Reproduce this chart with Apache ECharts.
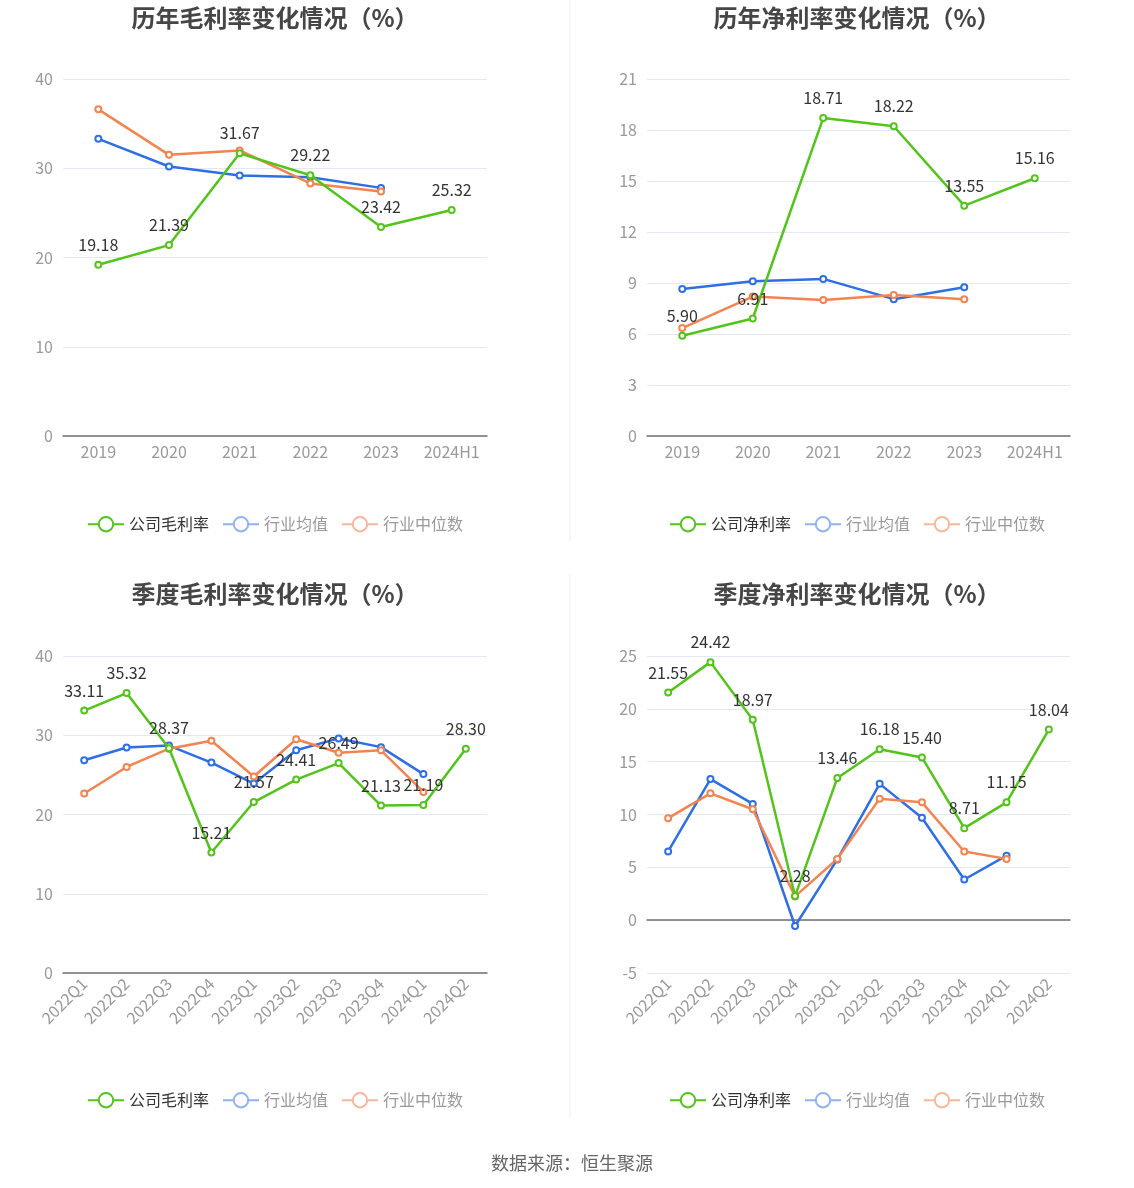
<!DOCTYPE html>
<html>
<head>
<meta charset="utf-8">
<script src="https://cdn.jsdelivr.net/npm/echarts@6/dist/echarts.min.js"></script>
<style>
  html, body { margin: 0; padding: 0; background: #fff; }
  #main { width: 1134px; height: 1188px; }
</style>
</head>
<body>
<div id="main"></div>
<script>
// 横轴分类
var yearCats = ['2019', '2020', '2021', '2022', '2023', '2024H1'];
var quarterCats = ['2022Q1', '2022Q2', '2022Q3', '2022Q4', '2023Q1', '2023Q2', '2023Q3', '2023Q4', '2024Q1', '2024Q2'];

// 历年毛利率
var grossYearCompany = [19.18, 21.39, 31.67, 29.22, 23.42, 25.32];
var grossYearAvg = [33.3, 30.2, 29.2, 29.0, 27.8];
var grossYearMedian = [36.6, 31.5, 32.0, 28.3, 27.4];

// 历年净利率
var netYearCompany = [5.90, 6.91, 18.71, 18.22, 13.55, 15.16];
var netYearAvg = [8.65, 9.1, 9.24, 8.05, 8.75];
var netYearMedian = [6.35, 8.2, 8.0, 8.3, 8.05];

// 季度毛利率
var grossQtrCompany = [33.11, 35.32, 28.37, 15.21, 21.57, 24.41, 26.49, 21.13, 21.19, 28.30];
var grossQtrAvg = [26.85, 28.45, 28.7, 26.55, 23.9, 28.1, 29.6, 28.5, 25.1];
var grossQtrMedian = [22.65, 26.0, 28.3, 29.3, 24.8, 29.5, 27.8, 28.1, 22.85];

// 季度净利率
var netQtrCompany = [21.55, 24.42, 18.97, 2.28, 13.46, 16.18, 15.40, 8.71, 11.15, 18.04];
var netQtrAvg = [6.5, 13.35, 11.0, -0.55, 5.75, 12.9, 9.7, 3.85, 6.1];
var netQtrMedian = [9.65, 12.0, 10.5, 2.25, 5.8, 11.5, 11.15, 6.5, 5.8];

// 坐标轴刻度
var grossTicks = { min: 0, max: 40, interval: 10 };
var netYearTicks = { min: 0, max: 21, interval: 3 };
var netQtrTicks = { min: -5, max: 25, interval: 5 };

var FONT = '"Noto Sans CJK SC", "Noto Sans", sans-serif';
var GREEN = '#52c41a', BLUE = '#2e6fe6', ORANGE = '#f5834f';

// 四个面板的位置
var panels = [
    { title: '历年毛利率变化情况（%）', name: '公司毛利率', cats: yearCats, ticks: grossTicks,
      company: grossYearCompany, avg: grossYearAvg, median: grossYearMedian,
      grid: { left: 63, top: 79, width: 424, height: 357 }, titleY: 1, legendY: 511, cx: 270, legendX: 82, rotate: 0 },
    { title: '历年净利率变化情况（%）', name: '公司净利率', cats: yearCats, ticks: netYearTicks,
      company: netYearCompany, avg: netYearAvg, median: netYearMedian,
      grid: { left: 647, top: 79, width: 423, height: 357 }, titleY: 1, legendY: 511, cx: 852, legendX: 664, rotate: 0 },
    { title: '季度毛利率变化情况（%）', name: '公司毛利率', cats: quarterCats, ticks: grossTicks,
      company: grossQtrCompany, avg: grossQtrAvg, median: grossQtrMedian,
      grid: { left: 63, top: 656, width: 424, height: 317 }, titleY: 577, legendY: 1087, cx: 270, legendX: 82, rotate: 45 },
    { title: '季度净利率变化情况（%）', name: '公司净利率', cats: quarterCats, ticks: netQtrTicks,
      company: netQtrCompany, avg: netQtrAvg, median: netQtrMedian,
      grid: { left: 647, top: 656, width: 423, height: 317 }, titleY: 577, legendY: 1087, cx: 852, legendX: 664, rotate: 45 }
];

var titles = [], grids = [], xAxes = [], yAxes = [], legends = [], series = [];

panels.forEach(function (p, i) {
    titles.push({
        text: p.title, left: p.cx, top: p.titleY, textAlign: 'center',
        textStyle: { fontFamily: FONT, fontSize: 24, fontWeight: 'bold', color: '#464646' }
    });
    grids.push(p.grid);
    xAxes.push({
        type: 'category', gridIndex: i, data: p.cats, boundaryGap: true,
        axisLine: { lineStyle: { color: '#6e7079', width: 1.5 } },
        axisTick: { alignWithLabel: true, lineStyle: { color: '#6e7079' } },
        axisLabel: { fontFamily: FONT, fontSize: 16, color: '#999', rotate: p.rotate, margin: 8, interval: 0 }
    });
    yAxes.push({
        type: 'value', gridIndex: i, min: p.ticks.min, max: p.ticks.max, interval: p.ticks.interval,
        axisLine: { show: false }, axisTick: { show: false },
        axisLabel: { fontFamily: FONT, fontSize: 16, color: '#999', margin: 10 },
        splitLine: { lineStyle: { color: '#e4e8f4' } }
    });
    var nA = p.name + '_' + i, nB = '行业均值_' + i, nC = '行业中位数_' + i;
    legends.push({
        left: p.legendX, top: p.legendY, orient: 'horizontal',
        itemWidth: 36, itemHeight: 18, itemGap: 13,
        textStyle: { fontFamily: FONT, fontSize: 16, color: '#333' },
        formatter: function (n) { return n.split('_')[0]; },
        data: [
            { name: nA },
            { name: nB, itemStyle: { color: '#8fb1f5', borderColor: '#8fb1f5' }, lineStyle: { color: '#8fb1f5' }, textStyle: { color: '#999' } },
            { name: nC, itemStyle: { color: '#f9b79b', borderColor: '#f9b79b' }, lineStyle: { color: '#f9b79b' }, textStyle: { color: '#999' } }
        ]
    });
    var base = {
        type: 'line', xAxisIndex: i, yAxisIndex: i,
        symbol: 'emptyCircle', symbolSize: 6, z: 3
    };
    series.push(Object.assign({}, base, {
        name: nA, data: p.company, color: GREEN, z: 4,
        lineStyle: { width: 2.5, color: GREEN },
        itemStyle: { color: GREEN, borderWidth: 2 },
        label: {
            show: true, position: 'top', distance: 8, fontFamily: FONT, fontSize: 16, color: '#333',
            formatter: function (d) { return d.value.toFixed(2); }
        }
    }));
    series.push(Object.assign({}, base, {
        name: nB, data: p.avg, color: BLUE,
        lineStyle: { width: 2.5, color: BLUE },
        itemStyle: { color: BLUE, borderWidth: 2 }
    }));
    series.push(Object.assign({}, base, {
        name: nC, data: p.median, color: ORANGE,
        lineStyle: { width: 2.5, color: ORANGE },
        itemStyle: { color: ORANGE, borderWidth: 2 }
    }));
});

// 数据来源
titles.push({
    text: '数据来源：恒生聚源', left: 567, top: 1149, textAlign: 'center',
    textStyle: { fontFamily: FONT, fontSize: 18, fontWeight: 'normal', color: '#666' }
});

var myChart = echarts.init(document.getElementById('main'), null, { renderer: 'canvas' });
var option = {
    backgroundColor: '#fff',
    animation: false,
    title: titles,
    grid: grids,
    xAxis: xAxes,
    yAxis: yAxes,
    legend: legends,
    series: series,
    graphic: [
        { type: 'line', shape: { x1: 570, y1: 0, x2: 570, y2: 542 }, style: { stroke: '#eeeeee', lineWidth: 1 } },
        { type: 'line', shape: { x1: 570, y1: 575, x2: 570, y2: 1117 }, style: { stroke: '#eeeeee', lineWidth: 1 } }
    ]
};
myChart.setOption(option);
window.addEventListener('resize', myChart.resize);
</script>
</body>
</html>
